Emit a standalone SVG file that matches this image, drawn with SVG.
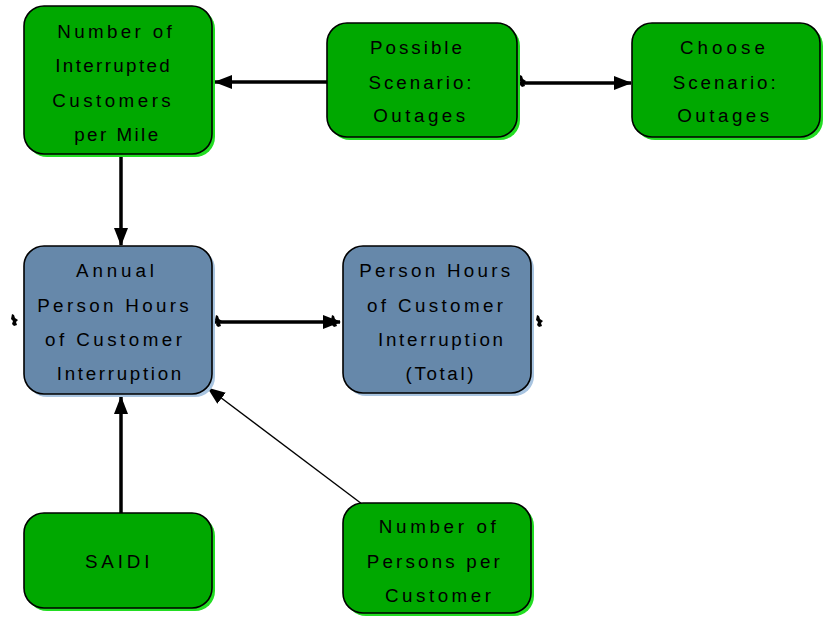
<svg xmlns="http://www.w3.org/2000/svg" width="823" height="618" viewBox="0 0 823 618">
<style>
.g{fill:#00a800;stroke:#000;stroke-width:1.6}
.gs{fill:#22dd22}
.b{fill:#6688aa;stroke:#000;stroke-width:1.6}
.bs{fill:#a8c4e0}
text{font-family:"Liberation Sans",Arial,sans-serif;font-size:18.8px;fill:#000;text-anchor:middle}
.c{fill:none;stroke:#000;stroke-width:3.5}
.t{fill:none;stroke:#000;stroke-width:1.4}
.stub{fill:#000}
</style>
<defs>
<marker id="ah" markerUnits="userSpaceOnUse" markerWidth="18" markerHeight="14" refX="17" refY="7" orient="auto">
<path d="M0,0 L18,7 L0,14 z" fill="#000"/>
</marker>
</defs>
<rect width="823" height="618" fill="#fff"/>
<g id="connectors">
<path class="c" d="M327,82 H215" marker-end="url(#ah)"/>
<path class="c" d="M517,83 H631" marker-end="url(#ah)"/>
<path class="c" d="M121,155 V245" marker-end="url(#ah)"/>
<path class="c" d="M214,322 H340" marker-end="url(#ah)"/>
<path class="c" d="M121,513 V397" marker-end="url(#ah)"/>
<path class="t" d="M362,504 L208,388" marker-end="url(#ah)"/>
</g>
<g id="flow-stubs">
<path class="stub" d="M12,314 l2,1 1,3 3,2 -2,2 1,3 -3,1 -2,-2 1,-3 -2,-2 z"/>
<path class="stub" d="M216,315 l2,1 1,3 3,2 -2,2 1,3 -3,1 -2,-2 1,-3 -2,-2 z"/>
<path class="stub" d="M332,315 l2,1 1,3 3,2 -2,2 1,3 -3,1 -2,-2 1,-3 -2,-2 z"/>
<path class="stub" d="M537,315 l2,1 1,3 3,2 -2,2 1,3 -3,1 -2,-2 1,-3 -2,-2 z"/>
<path class="stub" d="M520,75 l2,1 1,3 3,2 -2,2 1,3 -3,1 -2,-2 1,-3 -2,-2 z"/>
</g>
<g id="n-interrupted">
<rect class="gs" x="27" y="9" width="188" height="148" rx="20"/>
<rect class="g" x="24" y="6" width="188" height="148" rx="20"/>
<text x="114.5" y="37.5" textLength="114.5" lengthAdjust="spacing">Number of</text>
<text x="112.5" y="72" textLength="114.5" lengthAdjust="spacing">Interrupted</text>
<text x="111.5" y="106.5" textLength="118.5" lengthAdjust="spacing">Customers</text>
<text x="116.2" y="140.5" textLength="84" lengthAdjust="spacing">per Mile</text>
</g>
<g id="n-possible">
<rect class="gs" x="330" y="26" width="190" height="114" rx="20"/>
<rect class="g" x="327" y="23" width="190" height="114" rx="20"/>
<text x="416" y="54" textLength="92" lengthAdjust="spacing">Possible</text>
<text x="420" y="88.5" textLength="103" lengthAdjust="spacing">Scenario:</text>
<text x="419.2" y="122" textLength="92" lengthAdjust="spacing">Outages</text>
</g>
<g id="n-choose">
<rect class="gs" x="635" y="26" width="188" height="114" rx="20"/>
<rect class="g" x="632" y="23" width="188" height="114" rx="20"/>
<text x="722.5" y="54" textLength="85" lengthAdjust="spacing">Choose</text>
<text x="724.2" y="88.5" textLength="103" lengthAdjust="spacing">Scenario:</text>
<text x="723.2" y="122" textLength="92" lengthAdjust="spacing">Outages</text>
</g>
<g id="n-annual">
<rect class="bs" x="27" y="249" width="188" height="148" rx="20"/>
<rect class="b" x="24" y="246" width="188" height="148" rx="20"/>
<text x="115" y="277" textLength="78" lengthAdjust="spacing">Annual</text>
<text x="113" y="311.5" textLength="151.5" lengthAdjust="spacing">Person Hours</text>
<text x="113.5" y="346" textLength="137" lengthAdjust="spacing">of Customer</text>
<text x="119" y="380" textLength="124.5" lengthAdjust="spacing">Interruption</text>
</g>
<g id="n-total">
<rect class="bs" x="346" y="249" width="188" height="147" rx="20"/>
<rect class="b" x="343" y="246" width="188" height="147" rx="20"/>
<text x="434.7" y="277" textLength="151" lengthAdjust="spacing">Person Hours</text>
<text x="435" y="311.5" textLength="136" lengthAdjust="spacing">of Customer</text>
<text x="440.5" y="346" textLength="125" lengthAdjust="spacing">Interruption</text>
<text x="439.5" y="380" textLength="68" lengthAdjust="spacing">(Total)</text>
</g>
<g id="n-saidi">
<rect class="gs" x="27" y="516" width="188" height="95" rx="20"/>
<rect class="g" x="24" y="513" width="188" height="95" rx="20"/>
<text x="117.2" y="568" textLength="64.5" lengthAdjust="spacing">SAIDI</text>
</g>
<g id="n-persons">
<rect class="gs" x="346" y="506" width="188" height="110" rx="20"/>
<rect class="g" x="343" y="503" width="188" height="110" rx="20"/>
<text x="437.3" y="533" textLength="117" lengthAdjust="spacing">Number of</text>
<text x="433.3" y="568" textLength="133" lengthAdjust="spacing">Persons per</text>
<text x="438" y="602" textLength="106" lengthAdjust="spacing">Customer</text>
</g>
</svg>
